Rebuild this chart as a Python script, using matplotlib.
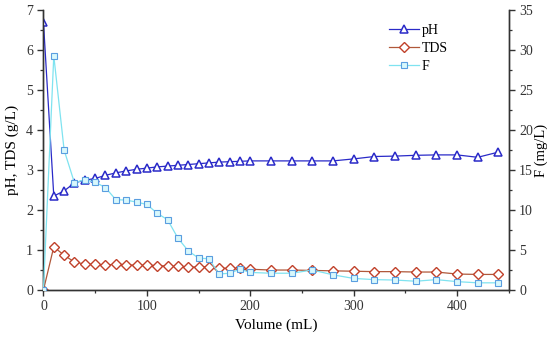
import matplotlib
matplotlib.use("Agg")
import matplotlib.pyplot as plt
from matplotlib.ticker import MultipleLocator

plt.rcParams['font.family'] = ['Liberation Serif', 'DejaVu Serif']

volume = [0, 10, 20, 30, 40, 50, 60, 70, 80, 90, 100, 110, 120, 130, 140, 150, 160,
          170, 180, 190, 200, 220, 240, 260, 280, 300, 320, 340, 360, 380, 400, 420, 440]
ph = [6.7, 2.35, 2.48, 2.68, 2.75, 2.79, 2.87, 2.93, 2.98, 3.02, 3.05, 3.08, 3.1, 3.12, 3.14, 3.16, 3.18,
      3.2, 3.21, 3.22, 3.23, 3.23, 3.23, 3.23, 3.23, 3.28, 3.34, 3.35, 3.37, 3.38, 3.38, 3.32, 3.45]
tds = [0.0, 1.08, 0.87, 0.7, 0.65, 0.64, 0.62, 0.65, 0.63, 0.62, 0.62, 0.61, 0.6, 0.59, 0.57, 0.58, 0.58,
       0.55, 0.54, 0.54, 0.52, 0.5, 0.5, 0.49, 0.48, 0.47, 0.46, 0.46, 0.45, 0.45, 0.4, 0.39, 0.39]
fluoride = [0.0, 29.3, 17.5, 13.4, 13.8, 13.5, 12.8, 11.3, 11.25, 11.0, 10.7, 9.6, 8.8, 6.5, 4.9, 4.0, 3.9,
            2.0, 2.1, 2.6, 2.2, 2.1, 2.1, 2.5, 1.9, 1.45, 1.3, 1.25, 1.1, 1.3, 1.05, 0.9, 0.9]

fig = plt.figure(figsize=(5.5, 3.4), dpi=100)
ax = fig.add_axes([0.079, 0.147, 0.846, 0.823])
ax2 = ax.twinx()

l1, = ax.plot(volume, ph, color='#2a2ac8', lw=0.9, marker='^', ms=6, mfc='white',
              mec='#2a2ac8', mew=1.1, label='pH', zorder=3)
l2, = ax.plot(volume, tds, color='#b0583a', lw=0.9, marker='D', ms=5.5, mfc='white',
              mec='#c0402a', mew=1.0, label='TDS', zorder=3)
l3, = ax2.plot(volume, fluoride, color='#7fe3f0', lw=0.9, marker='s', ms=4.5, mfc='#d8f8fc',
               mec='#5a9ee0', mew=0.8, label='F', zorder=3)

ax.set_xlim(0, 450)
ax.set_ylim(0, 7)
ax2.set_ylim(0, 35)

ax.xaxis.set_major_locator(MultipleLocator(100))
ax.xaxis.set_minor_locator(MultipleLocator(50))
ax.yaxis.set_major_locator(MultipleLocator(1))
ax.yaxis.set_minor_locator(MultipleLocator(0.5))
ax2.yaxis.set_major_locator(MultipleLocator(5))
ax2.yaxis.set_minor_locator(MultipleLocator(2.5))

for a in (ax, ax2):
    a.spines['top'].set_visible(False)
    for s in a.spines.values():
        s.set_linewidth(1.0)
        s.set_color('#333333')
    a.tick_params(which='major', direction='out', length=4, width=1.0, labelsize=10, colors='#333333')
    a.tick_params(which='minor', direction='out', length=2.5, width=0.9, colors='#333333')

ax.set_xlabel('Volume (mL)', fontsize=11, labelpad=4)
ax.set_ylabel('pH, TDS (g/L)', fontsize=11, labelpad=5)
ax2.set_ylabel('F (mg/L)', fontsize=10.5, labelpad=1, rotation=90)

leg = ax.legend(handles=[l1, l2, l3], loc='upper left', bbox_to_anchor=(0.73, 0.97),
                frameon=False, fontsize=10, handlelength=2.2, handletextpad=0.2,
                labelspacing=0.35, borderaxespad=0)

fig.savefig('out.png', dpi=100)
